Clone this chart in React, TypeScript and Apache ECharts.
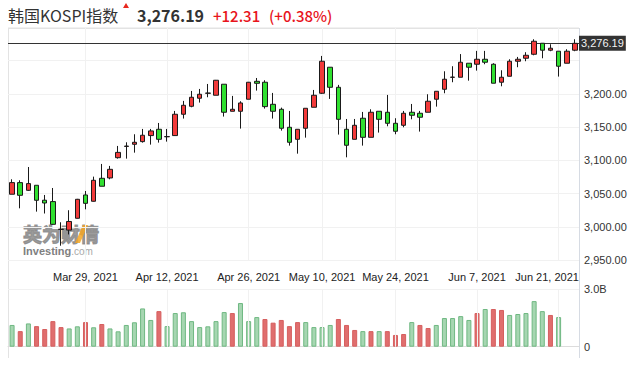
import React, { useEffect, useRef } from "react";
import * as echarts from "echarts";

// Trading days (Korea, 2021)
const marDays = [16, 17, 18, 19, 22, 23, 24, 25, 26, 29, 30, 31];
const aprDays = [1, 2, 5, 6, 7, 8, 9, 12, 13, 14, 15, 16, 19, 20, 21, 22, 23, 26, 27, 28, 29, 30];
const mayDays = [3, 4, 6, 7, 10, 11, 12, 13, 14, 17, 18, 20, 21, 24, 25, 26, 27, 28, 31];
const junDays = [1, 2, 3, 4, 7, 8, 9, 10, 11, 14, 15, 16, 17, 18, 21, 22, 23];

const categories: string[] = [
  ...marDays.map((d) => `Mar ${d}, 2021`),
  ...aprDays.map((d) => `Apr ${d}, 2021`),
  ...mayDays.map((d) => `May ${d}, 2021`),
  ...junDays.map((d) => `Jun ${d}, 2021`),
];

const labelDates = ["Mar 29, 2021", "Apr 12, 2021", "Apr 26, 2021", "May 10, 2021", "May 24, 2021", "Jun 7, 2021", "Jun 21, 2021"];

const openV = [3049, 3066.5, 3054.9, 3062.5, 3040, 3037.9, 2996, 2995, 3012.8, 3047.9,
  3038.4, 3073, 3073.5, 3104, 3121, 3124.2, 3128.2, 3137.3, 3146.8, 3135.5,
  3137.3, 3169.4, 3181.4, 3193.5, 3201, 3198, 3214.6, 3173.9, 3173.9, 3192,
  3219, 3217.6, 3184.4, 3176.9, 3149.8, 3131.7, 3148.3, 3179.9, 3201, 3240.2,
  3210, 3146.8, 3131.7, 3163.4, 3134.7, 3173.9, 3172.4, 3155.8, 3152.8, 3172.4,
  3170.9, 3172.4, 3192, 3207, 3225, 3225.1, 3246.2, 3244.7, 3252.2, 3244.7,
  3217.6, 3226.6, 3249.2, 3253.7, 3259.7, 3276.3, 3265.8, 3264.3, 3246.2, 3265.8];
const closeV = [3066.5, 3047.4, 3065, 3039.9, 3035.8, 3003.7, 2996.4, 3008, 3041.4, 3035.3,
  3070, 3061, 3086.5, 3112, 3121.5, 3127.2, 3137.8, 3144.3, 3131.7, 3135.8,
  3169.4, 3182.9, 3195, 3199.5, 3201.3, 3220.6, 3172.4, 3176.9, 3186.4, 3217.6,
  3216, 3180.9, 3173.9, 3148.3, 3127.2, 3146.8, 3178.4, 3198, 3249.2, 3210,
  3161.8, 3122.7, 3152.8, 3134.7, 3172.4, 3161.8, 3155.8, 3143.8, 3170.9, 3167.9,
  3164.9, 3189, 3204, 3222.1, 3225.3, 3247.7, 3240.2, 3252.2, 3247.7, 3216.1,
  3225.1, 3249.2, 3252.2, 3258.2, 3279.3, 3265.8, 3268.8, 3241.7, 3264.3, 3276.19];
const lowV = [3049, 3027.8, 3054, 3022.8, 3020, 3003, 2971.5, 2988.5, 3012.5, 3026.3,
  3038, 3061, 3071.5, 3102.6, 3102.6, 3111.6, 3126.7, 3123.7, 3126.7, 3128.2,
  3137, 3162.9, 3179.9, 3187, 3195, 3198, 3165.9, 3173.9, 3147.8, 3192,
  3205, 3177.9, 3162.9, 3144.8, 3122.2, 3110.1, 3134.2, 3179.9, 3200, 3192.5,
  3138.8, 3104.6, 3131.7, 3122.2, 3134.7, 3141.8, 3151.3, 3139.3, 3149.8, 3161.8,
  3143.3, 3172.4, 3180.9, 3201, 3217.6, 3225.1, 3220, 3235.1, 3244.7, 3216.1,
  3211.5, 3226.6, 3240.2, 3249.2, 3258.2, 3253.7, 3264.3, 3226.1, 3246.2, 3264.3];
const highV = [3071.5, 3070, 3090, 3062.5, 3047.9, 3058.4, 3006.8, 3024.9, 3042, 3053.9,
  3075.5, 3094.6, 3091.6, 3121.7, 3127.2, 3139.3, 3147.3, 3147.3, 3156.3, 3147.3,
  3174.4, 3189.5, 3204.5, 3207.5, 3215, 3221, 3214.6, 3197, 3189, 3218,
  3224, 3220.6, 3201.5, 3179.4, 3174.4, 3147, 3178.4, 3206, 3257.2, 3240.2,
  3213.6, 3162.3, 3162.3, 3172.9, 3176.9, 3173.9, 3198.5, 3163.4, 3174.4, 3184.9,
  3174.4, 3199.5, 3204, 3234.1, 3241.7, 3260, 3246.2, 3264.8, 3264.8, 3246.2,
  3235.6, 3252.2, 3255.7, 3262.8, 3282.3, 3276.3, 3274.8, 3264.3, 3267.3, 3282.3];

// Volume in billions
const volumeB: (number | null)[] = [1.13, 0.81, 1.21, 1.07, 0.92, 1.33, 1.02, 0.95, 1.06, 1.28,
  1.01, 1.18, 0.95, 0.8, 1.13, 1.27, 1.99, 1.39, 1.85, 1.07,
  1.75, 1.79, 1.33, 1.02, 1.06, 1.33, 1.8, 1.75, 2.27, 1.33,
  1.54, 1.44, 1.25, 1.39, 1.07, 1.28, 1.28, 1.02, 1.02, 1.13,
  1.44, 1.13, 0.87, 0.81, 0.81, 0.81, 0.81, 0.61, 0.66, 1.28,
  1.13, 0.97, 1.13, 1.49, 1.49, 1.59, 1.39, 1.75, 1.96, 1.96,
  1.91, 1.65, 1.7, 1.75, 2.37, 1.85, 1.65, 1.54, null, null];
const volumeColor = "grgrrrrggrgrggggggrggggggggrgggrrrrrggggrrrgrgrrrgrrgggggrgrrgggggrgrgg";

const lastPrice = 3276.19;
const change = "+12.31";
const changePct = "(+0.38%)";

const RED = "#f23a3a";
const GREEN = "#30e030";

export default function App() {
  const ref = useRef<HTMLDivElement>(null);
  useEffect(() => {
    if (!ref.current) return;
    const chart = echarts.init(ref.current, undefined, { renderer: "svg" });
    const labelSet = new Set(labelDates);
    const candleData = categories.map((_, i) => [openV[i], closeV[i], lowV[i], highV[i]]);
    const volData = volumeB.map((v, i) => ({
      value: v,
      itemStyle: volumeColor[i] === "r"
        ? { color: "#e06e6e", borderColor: "#d65f5f", borderWidth: 1 }
        : { color: "#a6d6b1", borderColor: "#6fb882", borderWidth: 1 },
    }));
    const vLines = labelDates.map((d) => ({ xAxis: d }));
    const font = "Liberation Sans, Arial, sans-serif";
    const fmtPrice = (v: number) =>
      v.toLocaleString("en-US", { minimumFractionDigits: 2, maximumFractionDigits: 2 });

    chart.setOption({
      animation: false,
      backgroundColor: "#fff",
      grid: [
        { left: 8, top: 27.5, width: 571, height: 232.5, containLabel: false, outerBoundsMode: "none" },
        { left: 8, top: 289, width: 571, height: 57.7, containLabel: false, outerBoundsMode: "none" },
      ],
      xAxis: [
        {
          type: "category", gridIndex: 0, data: categories, boundaryGap: true,
          axisLine: { show: false }, axisTick: { show: false }, splitLine: { show: false },
          axisLabel: {
            interval: (idx: number, val: string) => labelSet.has(val),
            margin: 11, fontSize: 11, color: "#222", fontFamily: font,
            formatter: (val: string) => (val === "Jun 21, 2021" ? "{s|" + val + "}" : val),
            rich: { s: { fontSize: 11, color: "#222", fontFamily: font, padding: [0, 23, 0, 0] } },
          },
        },
        {
          type: "category", gridIndex: 1, data: categories, boundaryGap: true,
          axisLine: { show: true, lineStyle: { color: "#dcdcdc" } }, axisTick: { show: false },
          axisLabel: { show: false }, splitLine: { show: false },
        },
      ],
      yAxis: [
        {
          type: "value", gridIndex: 0, position: "right", min: 2950, max: 3300, interval: 50,
          axisLine: { show: false }, axisTick: { show: false },
          splitLine: { show: true, lineStyle: { color: "#f1f1f1" } },
          axisLabel: {
            margin: 5, fontSize: 11, color: "#333", fontFamily: font,
            formatter: (v: number) => (v >= 3250 ? "" : fmtPrice(v)),
          },
        },
        {
          type: "value", gridIndex: 1, position: "right", min: 0, max: 3, interval: 3,
          axisLine: { show: false }, axisTick: { show: false },
          splitLine: { show: true, lineStyle: { color: "#f1f1f1" } },
          axisLabel: {
            margin: 5, fontSize: 11, color: "#333", fontFamily: font,
            formatter: (v: number) => (v === 0 ? "0" : v.toFixed(1) + "B"),
          },
        },
      ],
      series: [
        {
          type: "candlestick", xAxisIndex: 0, yAxisIndex: 0, data: candleData,
          barWidth: 5, clip: false,
          itemStyle: { color: RED, color0: GREEN, borderColor: "#1a1a1a", borderColor0: "#1a1a1a", borderWidth: 1 },
          markLine: {
            silent: true, symbol: ["none", "none"], animation: false, z: 1,
            data: [
              ...vLines.map((l) => ({ ...l, lineStyle: { color: "#f1f1f1", width: 1, type: "solid" }, label: { show: false } })),
              {
                yAxis: lastPrice,
                lineStyle: { color: "#333", width: 1, type: "solid" },
                label: {
                  show: true, position: "end", distance: 0, formatter: fmtPrice(lastPrice),
                  backgroundColor: "#333", color: "#f2f2f2", fontSize: 11, fontFamily: font,
                  padding: [2, 2, 2, 2],
                },
              },
            ],
          },
        },
        {
          type: "bar", xAxisIndex: 1, yAxisIndex: 1, data: volData, barWidth: 5,
          markLine: {
            silent: true, symbol: ["none", "none"], animation: false,
            lineStyle: { color: "#f1f1f1", width: 1, type: "solid" }, label: { show: false },
            data: vLines,
          },
        },
      ],
      graphic: [
        { type: "line", shape: { x1: 8.5, y1: 28, x2: 8.5, y2: 358 }, style: { stroke: "#e3e3e3", lineWidth: 1 }, silent: true },
        { type: "line", shape: { x1: 579.5, y1: 28, x2: 579.5, y2: 358 }, style: { stroke: "#d6dbe3", lineWidth: 1 }, silent: true },
        { type: "line", shape: { x1: 8, y1: 28.5, x2: 579, y2: 28.5 }, style: { stroke: "#e3e3e3", lineWidth: 1 }, silent: true },
        { type: "text", x: 8, y: 15, style: { text: "韩国KOSPI指数", fontSize: 16, fontFamily: "Noto Sans CJK SC", fill: "#333", verticalAlign: "middle" } },
        { type: "polygon", shape: { points: [[123, 8], [129, 8], [126, 3]] }, style: { fill: "#e8281e" } },
        { type: "text", x: 137, y: 15, style: { text: fmtPrice(lastPrice), fontSize: 16, fontWeight: "bold", fontFamily: "Noto Sans CJK SC", fill: "#333", verticalAlign: "middle" } },
        { type: "text", x: 213, y: 15, style: { text: change, fontSize: 15, fontWeight: 500, fontFamily: "Noto Sans CJK SC", fill: "#e8141c", verticalAlign: "middle" } },
        { type: "text", x: 269, y: 15, style: { text: changePct, fontSize: 15, fontWeight: 500, fontFamily: "Noto Sans CJK SC", fill: "#e8141c", verticalAlign: "middle" } },
        { type: "text", x: 23, y: 233, z: -1, style: { text: "英为财情", fontSize: 19, fontWeight: "bold", fontFamily: "Noto Sans CJK SC", fill: "#8a8a8a", stroke: "#8a8a8a", lineWidth: 1.2, opacity: 0.85, verticalAlign: "middle" } },
        { type: "polygon", z: -1, shape: { points: [[75, 243], [80, 243], [88, 225], [83, 225]] }, style: { fill: "#f5a623", opacity: 0.85 } },
        {
          type: "text", x: 23, y: 251, z: -1,
          style: {
            text: "{a|Investing}{b|.com}", verticalAlign: "middle",
            rich: {
              a: { fontSize: 11, fontWeight: "bold", fontFamily: font, fill: "#808080" },
              b: { fontSize: 10, fontFamily: font, fill: "#a8a8a8" },
            },
          },
        },
      ],
    });
    return () => chart.dispose();
  }, []);
  return <div ref={ref} style={{ position: "fixed", left: 0, top: 0, width: 641, height: 365, background: "#fff" }} />;
}
